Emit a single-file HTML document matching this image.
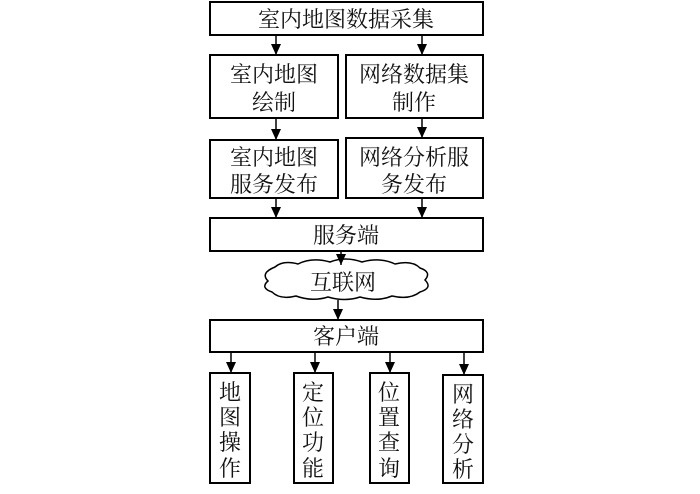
<!DOCTYPE html>
<html><head><meta charset="utf-8"><style>
body{margin:0;background:#fff;}
svg text{font-family:"Liberation Serif","Noto Serif CJK SC",serif;font-size:22px;fill:#111;text-anchor:middle;}
</style></head><body>
<svg width="700" height="489" viewBox="0 0 700 489" xmlns="http://www.w3.org/2000/svg">
<defs><marker id="a" markerWidth="12" markerHeight="12" refX="11" refY="5" orient="auto" markerUnits="userSpaceOnUse"><path d="M0,0 L11,5 L0,10 Z" fill="#000"/></marker></defs>
<g fill="none" stroke="#000" stroke-width="2">
<rect x="210" y="2" width="273" height="33"/>
<rect x="210" y="55" width="128" height="63"/>
<rect x="346" y="55" width="137" height="63"/>
<rect x="210" y="140" width="128" height="58"/>
<rect x="346" y="138" width="137" height="60"/>
<rect x="210" y="218" width="273" height="33"/>
<rect x="210" y="320" width="273" height="32"/>
<rect x="210" y="373" width="40" height="110"/>
<rect x="294" y="373" width="39" height="110"/>
<rect x="370" y="373" width="39" height="110"/>
<rect x="443" y="375" width="40" height="108"/>
<path stroke-width="1.5" d="M275,267 Q283,260 298,264 Q312,257 330,262 Q345,256 362,262 Q380,257 395,264 Q412,260 420,268 Q432,272 425,280 Q433,288 420,292 Q410,300 392,296 Q378,302 360,297 Q345,302 328,297 Q312,302 296,296 Q280,300 272,292 Q260,288 268,281 Q260,273 275,267 Z"/>
</g>
<g stroke="#000" stroke-width="1.5" marker-end="url(#a)">
<line x1="276" y1="35" x2="276" y2="55"/>
<line x1="422" y1="35" x2="422" y2="55"/>
<line x1="276" y1="118" x2="276" y2="140"/>
<line x1="422" y1="118" x2="422" y2="138"/>
<line x1="276" y1="198" x2="276" y2="218"/>
<line x1="422" y1="198" x2="422" y2="218"/>
<line x1="341" y1="251" x2="341" y2="265"/>
<line x1="338" y1="300" x2="338" y2="320"/>
<line x1="231" y1="352" x2="231" y2="373"/>
<line x1="315" y1="352" x2="315" y2="373"/>
<line x1="390" y1="352" x2="390" y2="373"/>
<line x1="464" y1="352" x2="464" y2="375"/>
</g>
<text x="346" y="27">室内地图数据采集</text>
<text x="274" y="82">室内地图</text><text x="274" y="110">绘制</text>
<text x="414" y="82">网络数据集</text><text x="414" y="110">制作</text>
<text x="274" y="165">室内地图</text><text x="274" y="192">服务发布</text>
<text x="414" y="165">网络分析服</text><text x="414" y="192">务发布</text>
<text x="346" y="243">服务端</text>
<text x="343" y="290">互联网</text>
<text x="346" y="344">客户端</text>
<text x="230" y="400">地</text><text x="230" y="425">图</text><text x="230" y="450">操</text><text x="230" y="476">作</text>
<text x="313" y="400">定</text><text x="313" y="425">位</text><text x="313" y="450">功</text><text x="313" y="476">能</text>
<text x="389" y="400">位</text><text x="389" y="425">置</text><text x="389" y="450">查</text><text x="389" y="476">询</text>
<text x="463" y="402">网</text><text x="463" y="427">络</text><text x="463" y="452">分</text><text x="463" y="477">析</text>
</svg>
</body></html>
